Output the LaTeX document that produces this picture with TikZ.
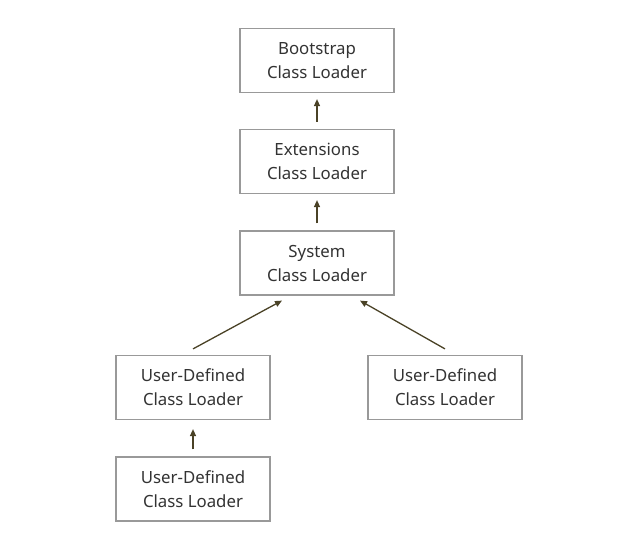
\documentclass[tikz,border=0pt]{standalone}
\usepackage{fontspec}
\setmainfont{Noto Sans}
\usetikzlibrary{arrows.meta}
\definecolor{arrowolive}{RGB}{74,66,38}
\begin{document}
\begin{tikzpicture}[x=1pt,y=-1pt,
  loader/.style={draw=black!40, line width=1.2pt, fill=white,
    minimum width=154pt, minimum height=64pt, inner sep=0pt,
    align=center, text=black!80, font=\fontsize{16.8}{24}\selectfont},
  arr/.style={draw=arrowolive, line width=1.3pt,
    -{Triangle[length=7pt,width=6pt]}}]
\useasboundingbox (0,0) rectangle (624,546);
\node[loader] (boot) at (317,60.5) {Bootstrap\\Class Loader};
\node[loader] (ext) at (317,161.5) {Extensions\\Class Loader};
\node[loader] (sys) at (317,263) {System\\Class Loader};
\node[loader] (uda) at (193,387.5) {User-Defined\\Class Loader};
\node[loader] (udb) at (445,387.5) {User-Defined\\Class Loader};
\node[loader] (udc) at (193,489) {User-Defined\\Class Loader};
\draw[arr] ([yshift=7pt]ext.north) -- ([yshift=-6pt]boot.south);
\draw[arr] ([yshift=7pt]sys.north) -- ([yshift=-6pt]ext.south);
\draw[arr] ([yshift=7pt]udc.north) -- ([yshift=-9pt]uda.south);
\draw[arr] ([yshift=6pt]uda.north) -- ([xshift=-35pt,yshift=-5pt]sys.south);
\draw[arr] ([yshift=6pt]udb.north) -- ([xshift=43pt,yshift=-5pt]sys.south);
\end{tikzpicture}
\end{document}
